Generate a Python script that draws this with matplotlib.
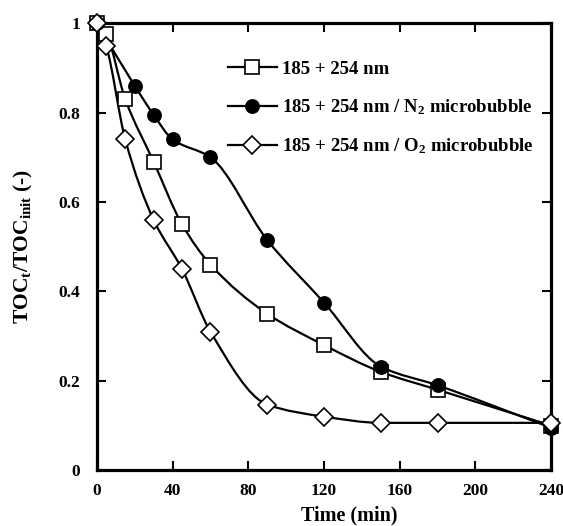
import matplotlib
matplotlib.use("Agg")
import matplotlib.pyplot as plt
import numpy as np
from matplotlib.path import Path
from matplotlib.patches import PathPatch
from matplotlib.lines import Line2D

plt.rcParams["font.family"] = ["Liberation Serif", "DejaVu Serif"]
plt.rcParams["font.weight"] = "bold"
plt.rcParams["mathtext.fontset"] = "custom"
plt.rcParams["mathtext.rm"] = "Liberation Serif:bold"
plt.rcParams["mathtext.it"] = "Liberation Serif:bold"
plt.rcParams["mathtext.bf"] = "Liberation Serif:bold"
plt.rcParams["mathtext.default"] = "rm"

# data
t_uv = [0, 5, 15, 30, 45, 60, 90, 120, 150, 180, 240]
toc_uv = [1.0, 0.975, 0.83, 0.69, 0.55, 0.46, 0.35, 0.28, 0.22, 0.18, 0.10]

t_n2 = [0, 20, 30, 40, 60, 90, 120, 150, 180, 240]
toc_n2 = [1.0, 0.86, 0.795, 0.74, 0.70, 0.515, 0.375, 0.232, 0.19, 0.095]

t_o2 = [0, 5, 15, 30, 45, 60, 90, 120, 150, 180, 240]
toc_o2 = [1.0, 0.948, 0.74, 0.56, 0.45, 0.31, 0.147, 0.12, 0.106, 0.106, 0.106]

labels = ["185 + 254 nm",
          "185 + 254 nm / N$_2$ microbubble",
          "185 + 254 nm / O$_2$ microbubble"]


def pchip_slopes(x, y):
    h = np.diff(x)
    d = np.diff(y) / h
    m = np.zeros_like(y)
    for i in range(1, len(x) - 1):
        if d[i - 1] * d[i] > 0:
            w1 = 2 * h[i] + h[i - 1]
            w2 = h[i] + 2 * h[i - 1]
            m[i] = (w1 + w2) / (w1 / d[i - 1] + w2 / d[i])
    m[0] = d[0]
    m[-1] = d[-1]
    return m


def smooth_path(x, y):
    # monotone cubic through the points, drawn as bezier segments
    x = np.asarray(x, float)
    y = np.asarray(y, float)
    m = pchip_slopes(x, y)
    verts = [(x[0], y[0])]
    codes = [Path.MOVETO]
    for i in range(len(x) - 1):
        h = x[i + 1] - x[i]
        verts += [(x[i] + h / 3, y[i] + m[i] * h / 3),
                  (x[i + 1] - h / 3, y[i + 1] - m[i + 1] * h / 3),
                  (x[i + 1], y[i + 1])]
        codes += [Path.CURVE4] * 3
    return Path(verts, codes)


fig = plt.figure(figsize=(5.63, 5.26), dpi=100)
ax = fig.add_axes([0.172, 0.106, 0.807, 0.85])

series = [
    (t_uv, toc_uv, "s", "white", 10, 3),
    (t_n2, toc_n2, "o", "black", 9.5, 4),
    (t_o2, toc_o2, "D", "white", 9.5, 5),
]
handles = []
for (t, v, m, fc, ms, z), lab in zip(series, labels):
    ax.add_patch(PathPatch(smooth_path(t, v), facecolor="none",
                           edgecolor="black", lw=1.6, zorder=2, clip_on=False))
    ax.plot(t, v, ls="none", marker=m, ms=ms, mfc=fc, mec="black",
            mew=1.2, zorder=z, clip_on=False)
    handles.append(Line2D([], [], color="black", lw=1.6, marker=m, ms=ms,
                          mfc=fc, mec="black", mew=1.2))

ax.set_xlim(0, 240)
ax.set_ylim(0, 1)
ax.set_xticks(np.arange(0, 241, 40))
ax.set_yticks([0, 0.2, 0.4, 0.6, 0.8, 1.0])
ax.set_yticklabels(["0", "0.2", "0.4", "0.6", "0.8", "1"])
ax.tick_params(direction="in", top=True, right=True, length=6.5, width=1.5,
               labelsize=12.5)
ax.tick_params(axis="y", pad=12)
ax.tick_params(axis="x", pad=9)
for s in ax.spines.values():
    s.set_linewidth(2.3)

ax.set_xlabel("Time (min)", fontsize=14.5, fontweight="bold")
ax.xaxis.set_label_coords(0.555, -0.078)
ax.set_ylabel("TOC$_t$/TOC$_{init}$ (-)", fontsize=15.5, fontweight="bold")
ax.yaxis.set_label_coords(-0.135, 0.5)

ax.legend(handles, labels, loc="upper left", bbox_to_anchor=(0.272, 0.933),
          frameon=False, fontsize=13.5, handlelength=2.6, labelspacing=1.05,
          handletextpad=0.27, borderaxespad=0)

fig.savefig("out.png", dpi=100)
